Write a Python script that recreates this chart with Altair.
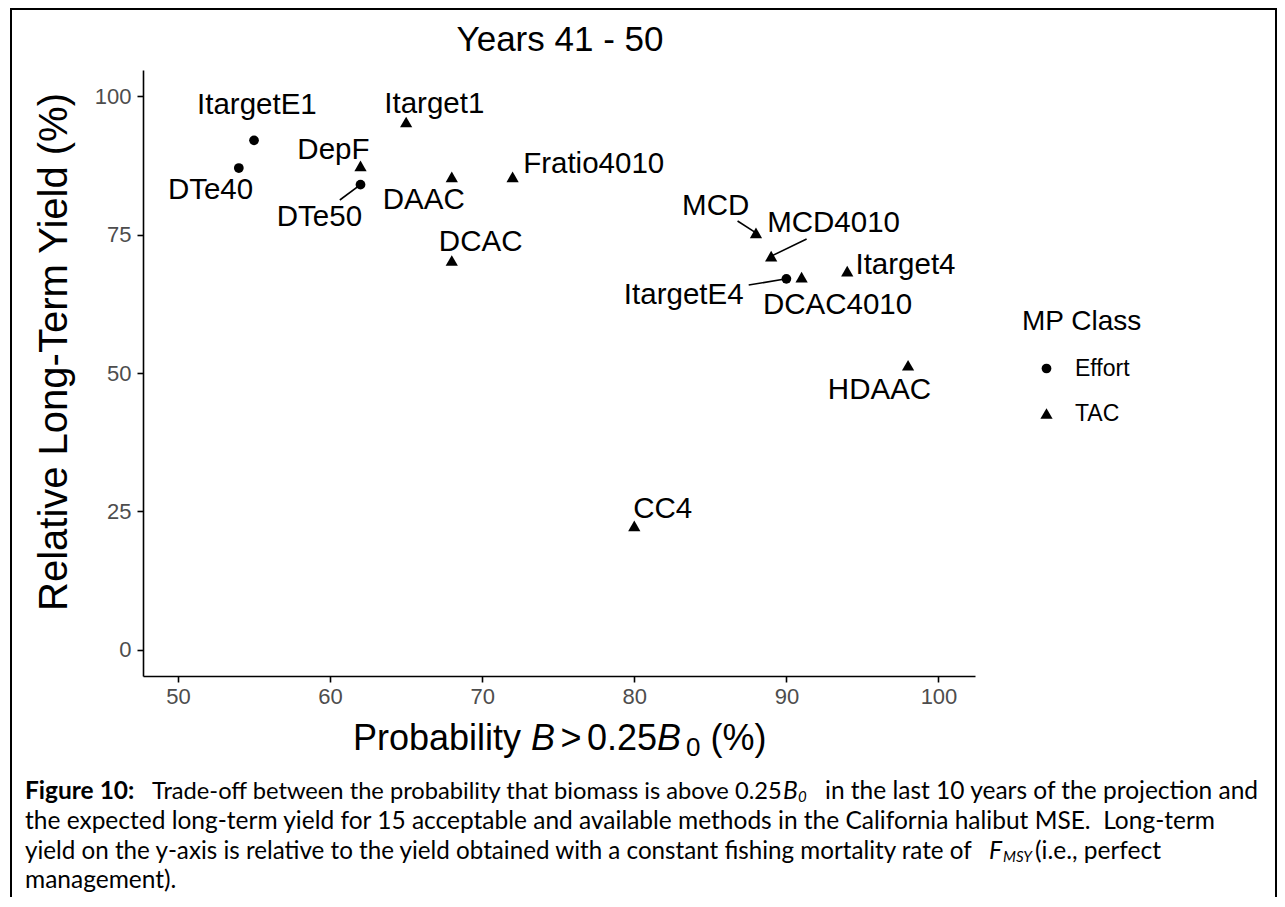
import altair as alt
import pandas as pd

# ---- data ----
mp_names = ["ItargetE1", "DTe40", "Itarget1", "DepF", "DTe50", "DAAC", "Fratio4010",
            "DCAC", "MCD", "MCD4010", "ItargetE4", "DCAC4010", "Itarget4", "HDAAC", "CC4"]
mp_class = ["Effort", "Effort", "TAC", "TAC", "Effort", "TAC", "TAC",
            "TAC", "TAC", "TAC", "Effort", "TAC", "TAC", "TAC", "TAC"]
prob_b = [55, 54, 65, 62, 62, 68, 72, 68, 88, 89, 90, 91, 94, 98, 80]
rel_yield = [92, 87, 95.3, 87.4, 84, 85.4, 85.4, 70.3, 75.3, 71.1, 67, 67.3, 68.4, 51.4, 22.4]

# label positions (repelled labels), in data units
label_x = [55.19, 52.14, 66.85, 60.22, 59.3, 66.16, 77.33, 69.9, 85.35, 93.1, 83.25, 93.36, 97.83, 96.12, 81.87]
label_y = [98.3, 83.0, 98.6, 90.25, 78.2, 81.2, 87.7, 73.6, 80.1, 77.0, 64.1, 62.3, 69.5, 46.9, 25.5]

# leader segments: label end -> point
seg_names = ["DTe50", "MCD", "MCD4010", "ItargetE4"]
seg_start_x = [60.64, 86.79, 91.33, 87.52]
seg_start_y = [81.23, 77.44, 74.19, 65.88]

x_ticks = [50, 60, 70, 80, 90, 100]
y_ticks = [0, 25, 50, 75, 100]
x_domain = [47.7, 102.4]
y_domain = [-4.7, 104.7]

FONT = "Liberation Sans"
CAP_FONT = "Lato"
W, H = 832, 606
OX, OY = 143, 70  # page position of plot origin
TOTAL_W, TOTAL_H = 1269, 889

df = pd.DataFrame({"mp": mp_names, "cls": mp_class, "x": prob_b, "y": rel_yield,
                   "lx": label_x, "ly": label_y})
pt = {n: (a, b) for n, a, b in zip(mp_names, prob_b, rel_yield)}
seg_df = pd.DataFrame({"mp": seg_names, "x0": seg_start_x, "y0": seg_start_y,
                       "x1": [pt[n][0] for n in seg_names], "y1": [pt[n][1] for n in seg_names]})

xs = alt.Scale(domain=x_domain, nice=False, zero=False)
ys = alt.Scale(domain=y_domain, nice=False, zero=False)

leg = alt.Legend(title="MP Class", orient="none", legendX=879, legendY=238)
points = alt.Chart(df).mark_point(filled=True, opacity=1, color="black").encode(
    x=alt.X("x:Q", scale=xs, axis=alt.Axis(values=x_ticks, title=None, grid=False)),
    y=alt.Y("y:Q", scale=ys, axis=alt.Axis(values=y_ticks, title=None, grid=False)),
    shape=alt.Shape("cls:N", scale=alt.Scale(domain=["Effort", "TAC"], range=["circle", "triangle-up"]),
                    legend=leg),
    size=alt.Size("cls:N", scale=alt.Scale(domain=["Effort", "TAC"], range=[95, 150]), legend=leg),
)

segs = alt.Chart(seg_df).mark_rule(color="black", strokeWidth=1.6).encode(
    x=alt.X("x0:Q", scale=xs), y=alt.Y("y0:Q", scale=ys), x2="x1:Q", y2="y1:Q")

labels = alt.Chart(df).mark_text(font=FONT, fontSize=29.5, color="black", align="center",
                                 baseline="middle").encode(
    x=alt.X("lx:Q", scale=xs), y=alt.Y("ly:Q", scale=ys), text="mp:N")

one = pd.DataFrame({"a": [0]})


def txt(s, px, py, size, font=FONT, weight="normal", style="normal", angle=0, align="left",
        baseline="alphabetic", color="black"):
    return alt.Chart(one).mark_text(text=s, font=font, fontSize=size, fontWeight=weight,
                                    fontStyle=style, angle=angle, align=align,
                                    baseline=baseline, color=color).encode(
        x=alt.value(px - OX), y=alt.value(py - OY))


# Arial / Liberation Sans advance widths (per 1000 em) for chaining the x title pieces
AW = {' ': 278, 'P': 667, 'r': 333, 'o': 556, 'b': 556, 'a': 556, 'i': 222, 'l': 222, 't': 278,
      'y': 500, 'B': 667, '>': 584, '0': 556, '.': 278, '2': 556, '5': 556, '(': 333, '%': 889, ')': 333}


def width(s, size):
    return sum(AW[c] for c in s) * size / 1000.0


XS = 36
xt = []
cx = 353
xbase = 750
pieces = [("Probability ", XS, "normal", 0, 0), ("B", XS, "italic", 0, 0.15 * XS),
          (">", XS, "normal", 0, 0.15 * XS), ("0.25", XS, "normal", 0, 0),
          ("B", XS, "italic", 0, 5), ("0", 26, "normal", 6, 0), (" (%)", XS, "normal", 0, 0)]
for s, sz, st, dy, gap_after in pieces:
    lead = width(" ", sz) if s.startswith(" ") else 0
    xt.append(txt(s.strip(), cx + lead, xbase + dy, sz, style=st))
    cx += width(s, sz) + gap_after

CS = 24.5
deco = [
    txt("Years 41 - 50", 560, 40, 35, align="center", baseline="middle"),
    # y-axis title
    txt("Relative Long-Term Yield (%)", 55, 352, 40, angle=270, align="center", baseline="middle"),
    *xt,
    # caption line 1
    txt("Figure 10:", 25, 799, CS, font=CAP_FONT, weight="bold"),
    txt("Trade-off between the probability that biomass is above 0.25", 152, 799, 23.7, font=CAP_FONT),
    txt("B", 783, 799, CS, font=CAP_FONT, style="italic"),
    txt("0", 798, 802, 15, font=CAP_FONT, style="italic"),
    txt("in the last 10 years of the projection and", 825, 799, CS, font=CAP_FONT),
    # caption line 2
    txt("the expected long-term yield for 15 acceptable and available methods in the California halibut MSE.\u00a0 Long-term",
        25, 829, CS, font=CAP_FONT),
    # caption line 3
    txt("yield on the y-axis is relative to the yield obtained with a constant fishing mortality rate of",
        25, 859, 24.2, font=CAP_FONT),
    txt("F", 989, 859, CS, font=CAP_FONT, style="italic"),
    txt("MSY", 1003, 862, 15, font=CAP_FONT, style="italic"),
    txt("(i.e., perfect", 1035, 859, CS, font=CAP_FONT),
    # caption line 4
    txt("management).", 25, 888, CS, font=CAP_FONT),
]

border = alt.Chart(one).mark_rect(fillOpacity=0, stroke="black", strokeWidth=2).encode(
    x=alt.value(11 - OX), x2=alt.value(1276 - OX), y=alt.value(9 - OY), y2=alt.value(960 - OY))

chart = alt.layer(border, segs, points, labels, *deco).properties(
    width=W, height=H,
    autosize=alt.AutoSizeParams(type="none"),
    padding={"left": OX - 8, "top": OY - 8, "right": TOTAL_W - (OX - 8) - W,
             "bottom": TOTAL_H - (OY - 8) - H},
).configure_view(stroke=None).configure_axis(
    domainColor="black", domainWidth=1.6, tickColor="black", tickWidth=1.6, tickSize=6,
    labelColor="#4d4d4d", labelFont=FONT, labelFontSize=22, labelPadding=4,
).configure_axisY(labelPadding=6).configure_legend(
    titleFont=FONT, titleFontSize=28, titleFontWeight="normal", titleColor="black",
    labelFont=FONT, labelFontSize=23, labelColor="black", symbolFillColor="black",
    symbolStrokeColor="black", rowPadding=21, titlePadding=21, labelOffset=17,
    symbolOffset=13,
)

chart.save("out.html", embed_options={"renderer": "svg", "actions": False})
